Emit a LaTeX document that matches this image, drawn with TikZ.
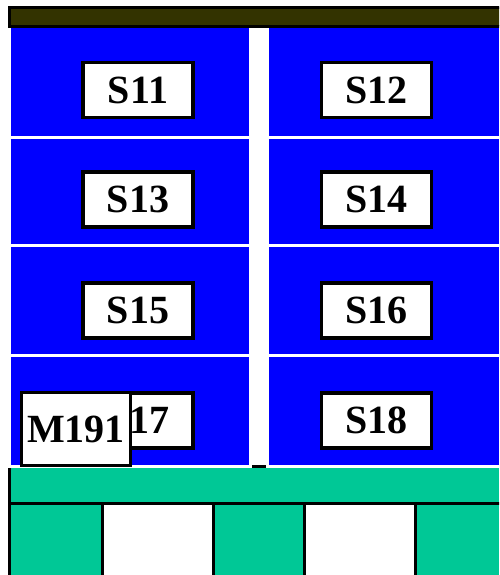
\documentclass[tikz,border=0pt]{standalone}
\usepackage{fontspec}
\setmainfont{Liberation Serif}
\definecolor{barcol}{RGB}{51,51,0}
\definecolor{panel}{RGB}{0,0,255}
\definecolor{floor}{RGB}{0,200,150}
\tikzset{
  lbl/.style={draw=black, fill=white, line width=3.5pt, minimum width=110pt,
    minimum height=55pt, inner sep=0pt, font=\fontsize{40}{44}\selectfont\bfseries},
  bigbox/.style={lbl, line width=3pt, minimum width=109pt, minimum height=73pt},
  blk/.style={line width=3pt, draw=black}
}
\begin{document}
\begin{tikzpicture}[x=1pt,y=-1pt]
\useasboundingbox (0,0) rectangle (499,575);
\clip (0,0) rectangle (499,575);
\fill[white] (0,0) rectangle (499,575);
% top bar
\draw[blk, fill=barcol] (9.5,7.5) rectangle (505,26.5);
% blue panels
\foreach \ya/\yb in {28/136, 139/244, 247/354, 357/465}{
  \fill[panel] (11,\ya) rectangle (249,\yb);
  \fill[panel] (269,\ya) rectangle (499,\yb);
}
% floor
\fill[floor] (11,468) rectangle (499,575);
\fill[white] (104,503) rectangle (213,575);
\fill[white] (306,503) rectangle (415,575);
\draw[blk] (9.5,468) -- (9.5,580);
\draw[blk] (11,503) -- (505,503);
\draw[blk] (102.5,503) -- (102.5,580);
\draw[blk] (213.5,503) -- (213.5,580);
\draw[blk] (304.5,503) -- (304.5,580);
\draw[blk] (415.5,503) -- (415.5,580);
\fill[black] (252,465) rectangle (266,468);
% labels
\node[lbl] (s11) at (138,90) {S11};
\node[lbl] (s12) at (376.5,90) {S12};
\node[lbl] (s13) at (138,199.5) {S13};
\node[lbl] (s14) at (376.5,199.5) {S14};
\node[lbl] (s15) at (138,310.5) {S15};
\node[lbl] (s16) at (376.5,310.5) {S16};
\node[lbl] (s17) at (138,420.5) {S17};
\node[lbl] (s18) at (376.5,420.5) {S18};
\node[bigbox] (m191) at (76,429) {M191};
\end{tikzpicture}
\end{document}
